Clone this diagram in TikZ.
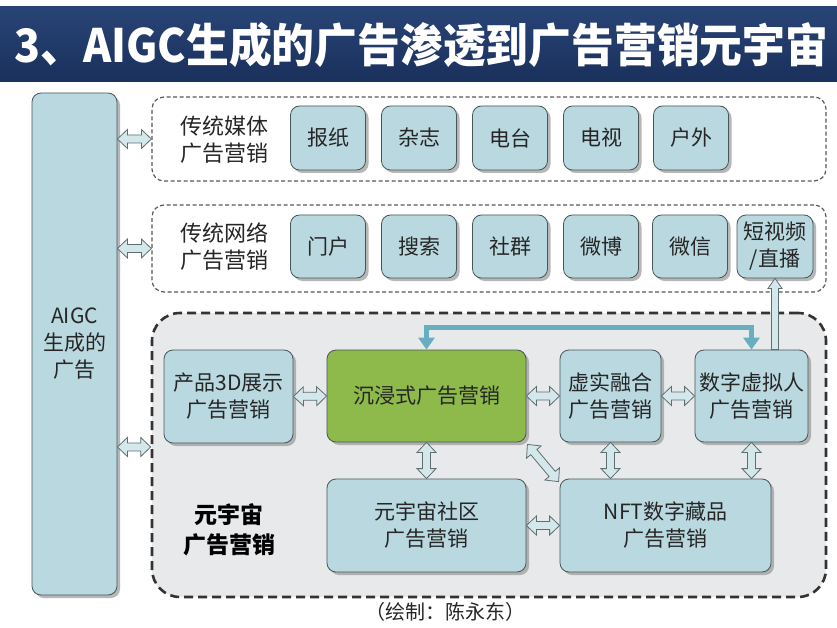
\documentclass[tikz,border=0pt]{standalone}
\usepackage{fontspec}
\setmainfont{Noto Sans CJK SC}
\usetikzlibrary{arrows.meta,shadows,calc}
\definecolor{boxblue}{RGB}{186,216,224}
\definecolor{boxgreen}{RGB}{141,186,74}
\definecolor{edgec}{RGB}{72,86,88}
\definecolor{navytop}{RGB}{40,68,118}
\definecolor{navybot}{RGB}{26,48,92}
\definecolor{tealc}{RGB}{104,174,192}
\definecolor{arrfill}{RGB}{212,231,235}
\definecolor{arredge}{RGB}{95,110,114}
\definecolor{regionfill}{RGB}{231,233,234}
% double-headed block arrow between two named points
\newcommand\dblarr[2]{%
  \filldraw[blockarr]
   (#1) -- ($(#1)!10pt!(#2)!9.5pt!90:(#2)$) -- ($(#1)!10pt!(#2)!4pt!90:(#2)$)
   -- ($(#2)!10pt!(#1)!4pt!-90:(#1)$) -- ($(#2)!10pt!(#1)!9.5pt!-90:(#1)$)
   -- (#2) -- ($(#2)!10pt!(#1)!9.5pt!90:(#1)$) -- ($(#2)!10pt!(#1)!4pt!90:(#1)$)
   -- ($(#1)!10pt!(#2)!4pt!-90:(#2)$) -- ($(#1)!10pt!(#2)!9.5pt!-90:(#2)$) -- cycle;}
% single-headed block arrow from #1 to #2
\newcommand\sglarr[2]{%
  \filldraw[blockarr]
   ($(#1)!3.5pt!90:(#2)$) -- ($(#2)!10pt!(#1)!3.5pt!-90:(#1)$) -- ($(#2)!10pt!(#1)!7pt!-90:(#1)$)
   -- (#2) -- ($(#2)!10pt!(#1)!7pt!90:(#1)$) -- ($(#2)!10pt!(#1)!3.5pt!90:(#1)$)
   -- ($(#1)!3.5pt!-90:(#2)$) -- cycle;}
\begin{document}
\begin{tikzpicture}[x=1pt,y=-1pt,
  box/.style={draw=edgec, line width=0.8pt, rounded corners=9pt, fill=boxblue,
    drop shadow={shadow xshift=3pt, shadow yshift=-3pt, fill=black!40, opacity=0.7},
    align=center, font=\fontsize{21}{27}\selectfont, text=black!85, inner sep=0pt},
  gbox/.style={box, fill=boxgreen},
  dashbox/.style={draw=black!65, line width=1.2pt, dash pattern=on 4pt off 2.5pt, rounded corners=12pt, inner sep=0pt},
  bigbox/.style={draw=black!80, line width=2.6pt, dash pattern=on 9pt off 5pt, rounded corners=28pt, fill=regionfill, inner sep=0pt},
  lbl/.style={align=center, font=\fontsize{22}{27}\selectfont, text=black!85},
  blockarr/.style={fill=arrfill, draw=arredge, line width=0.8pt, line join=miter},
  tealarr/.style={draw=tealc, line width=5.5pt, {Triangle[width=16pt,length=12pt]}-{Triangle[width=16pt,length=12pt]}}
]
\useasboundingbox (0,0) rectangle (837,628);
\fill[white] (0,0) rectangle (837,628);
% title band
\shade[top color=navytop, bottom color=navybot] (0,7) rectangle (837,82);
\node[anchor=west, text=white, font=\bfseries\fontsize{46}{46}\selectfont, inner sep=0pt] (title) at (14,45) {\resizebox{814pt}{\height}{3、AIGC生成的广告渗透到广告营销元宇宙}};

% containers
\node[dashbox, minimum width=674pt, minimum height=84pt] (dash1) at (489,139) {};
\node[dashbox, minimum width=674pt, minimum height=87pt] (dash2) at (489,248.5) {};
\node[bigbox, minimum width=674pt, minimum height=284pt] (big) at (489,455) {};

% left tall box
\node[box, minimum width=85pt, minimum height=502pt] (aigc) at (74.5,344) {AIGC\\生成的\\广告};

% row 1
\node[lbl] (l1) at (224,140) {传统媒体\\广告营销};
\node[box, minimum width=75pt, minimum height=64pt] (b11) at (328,138) {报纸};
\node[box, minimum width=75pt, minimum height=64pt] (b12) at (419,138) {杂志};
\node[box, minimum width=75pt, minimum height=64pt] (b13) at (510,138) {电台};
\node[box, minimum width=75pt, minimum height=64pt] (b14) at (601,138) {电视};
\node[box, minimum width=75pt, minimum height=64pt] (b15) at (691,138) {户外};

% row 2
\node[lbl] (l2) at (224,247) {传统网络\\广告营销};
\node[box, minimum width=75pt, minimum height=63pt] (b21) at (328,246.5) {门户};
\node[box, minimum width=75pt, minimum height=63pt] (b22) at (419,246.5) {搜索};
\node[box, minimum width=75pt, minimum height=63pt] (b23) at (510,246.5) {社群};
\node[box, minimum width=75pt, minimum height=63pt] (b24) at (601,246.5) {微博};
\node[box, minimum width=75pt, minimum height=63pt] (b25) at (690,246.5) {微信};
\node[box, minimum width=76pt, minimum height=63pt] (svb) at (775,246.5) {短视频\\/直播};

% metaverse region
\node[box, minimum width=129pt, minimum height=93pt] (p3d) at (228.5,396.5) {产品3D展示\\广告营销};
\node[gbox, minimum width=199pt, minimum height=92pt] (imm) at (426.5,396) {沉浸式广告营销};
\node[box, minimum width=101pt, minimum height=92pt] (vr) at (610.5,396) {虚实融合\\广告营销};
\node[box, minimum width=113pt, minimum height=92pt] (dvr) at (751.5,396) {数字虚拟人\\广告营销};
\node[box, minimum width=199pt, minimum height=93pt] (com) at (426.5,525.5) {元宇宙社区\\广告营销};
\node[box, minimum width=211pt, minimum height=93pt] (nft) at (665.5,525.5) {NFT数字藏品\\广告营销};
\node[align=center, font=\bfseries\fontsize{23}{30}\selectfont, text=black] (l3) at (229,530) {元宇宙\\广告营销};

% caption
\node[font=\fontsize{20}{24}\selectfont, text=black!85] (cap) at (445,612) {（绘制：陈永东）};

% left connectors
\coordinate (a1) at (aigc.east |- dash1.west);
\coordinate (a2) at (aigc.east |- dash2.west);
\coordinate (a3) at (aigc.east |- 0,447);
\coordinate (a3e) at (big.west |- 0,447);
\dblarr{a1}{dash1.west}
\dblarr{a2}{dash2.west}
\dblarr{a3}{a3e}

% inner connectors
\dblarr{p3d.east}{imm.west}
\dblarr{imm.east}{vr.west}
\dblarr{vr.east}{dvr.west}
\dblarr{imm.south}{com.north}
\coordinate (v1) at (vr.south);
\coordinate (v1e) at (nft.north -| vr.south);
\dblarr{v1}{v1e}
\coordinate (v2) at (dvr.south);
\coordinate (v2e) at (nft.north -| dvr.south);
\dblarr{v2}{v2e}
\coordinate (d1) at ($(imm.south east)+(1,2)$);
\coordinate (d2) at ($(nft.north west)+(-1,3)$);
\dblarr{d1}{d2}
\dblarr{com.east}{nft.west}

% up arrow to short video
\coordinate (u1) at (dvr.north -| svb.south);
\sglarr{u1}{svb.south}

% teal arrow on top
\draw[tealarr] (imm.north) -- ++(0,-22) -| (dvr.north);
\end{tikzpicture}
\end{document}
